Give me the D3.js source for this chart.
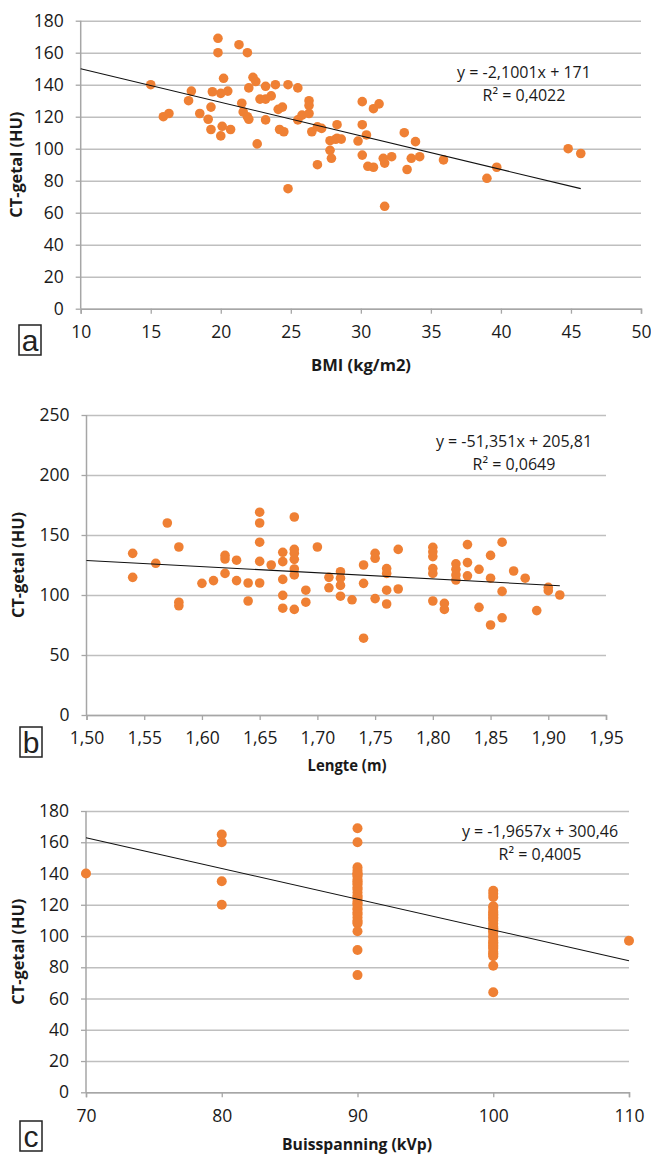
<!DOCTYPE html>
<html>
<head>
<meta charset="utf-8">
<script src="https://cdn.jsdelivr.net/npm/d3@7"></script>
<style>
  html, body { margin: 0; padding: 0; background: #fff; }
  svg { display: block; font-family: "Open Sans", "DejaVu Sans", sans-serif; }
</style>
</head>
<body>
<svg id="chart" width="651" height="1155"></svg>
<script>
// ---------- Panel a: BMI ----------
const bmiX = [15.0,15.9,16.3,19.8,19.8,21.3,21.9,20.2,17.9,17.7,19.4,20.0,20.5,19.3,18.5,19.1,19.3,20.1,20.0,20.7,
  22.3,22.5,22.0,23.2,23.9,24.8,25.5,21.5,21.6,21.9,22.0,22.8,23.2,23.6,23.2,22.6,24.1,24.4,24.2,24.5,
  24.8,25.5,25.8,26.3,26.3,26.3,26.5,26.9,27.2,26.9,27.8,27.8,27.9,28.3,28.3,30.1,30.9,31.3,30.1,30.4,
  29.8,28.2,28.6,33.1,33.9,30.1,30.5,30.9,31.6,32.2,31.7,31.7,33.3,33.6,34.2,35.9,39.0,39.7,44.8,45.7];
const bmiY = [140,120,122,169,160,165,160,144,136,130,135.6,134.6,136,126,122,118.4,112,114,108,112,
  144.6,142,138,139,140,140,138,128.4,123,120,118.4,131,131,133,118,103,124.6,126,112,110.6,
  75,118,121,122,130,127,110.6,113.7,112.7,90,105,99,94,115,106.5,129.4,125,128,115,108.6,
  104.8,105.9,106,110,104.4,96,89,88.4,94,95,91,64,87,94,95,93,81.5,88.4,100,97];
const bmiXTicks = [10,15,20,25,30,35,40,45,50];
const bmiYTicks = [0,20,40,60,80,100,120,140,160,180];
const bmiFit = [-2.1001, 171];
const bmiFitRange = [10, 45.7];
const bmiEq = ["y = -2,1001x + 171", "R² = 0,4022"];

// ---------- Panel b: Lengte ----------
const lenX = [1.54,1.54,1.56,1.57,1.58,1.58,1.58,1.60,1.61,1.62,1.62,1.62,1.63,1.63,1.64,1.64,
  1.65,1.65,1.65,1.65,1.65,1.66,1.67,1.67,1.67,1.67,1.67,1.68,1.68,1.68,1.68,1.68,1.68,1.68,
  1.69,1.69,1.70,1.71,1.71,1.72,1.72,1.72,1.72,1.73,1.74,1.74,1.74,1.75,1.75,1.75,
  1.76,1.76,1.76,1.76,1.77,1.77,1.80,1.80,1.80,1.80,1.80,1.80,1.81,1.81,
  1.82,1.82,1.82,1.82,1.83,1.83,1.83,1.84,1.84,1.85,1.85,1.85,1.86,1.86,1.86,
  1.87,1.88,1.89,1.90,1.90,1.91];
const lenY = [134.7,114.7,126.4,160,140,94,91,109.7,112,133,130,118,129,112,110,95,
  169,160,144,128,110,125,135.6,127.8,113,99.7,89,165,138,134.7,129.7,121.7,116.7,88,
  104,94,140,114.7,106,119.4,114,108,99,96,125,109.7,64,134.7,130.6,97,
  122,118,104,92.5,138,105,139.7,136,132,122,118,95,93,88,
  126,121.4,116.7,112.5,142,127,116,121.4,89.7,133,114,75,144,103,81,
  120,114,87,106.4,103.6,100];
const lenXTicks = [1.50,1.55,1.60,1.65,1.70,1.75,1.80,1.85,1.90,1.95];
const lenYTicks = [0,50,100,150,200,250];
const lenFit = [-51.351, 205.81];
const lenFitRange = [1.50, 1.91];
const lenEq = ["y = -51,351x + 205,81", "R² = 0,0649"];

// ---------- Panel c: Buisspanning ----------
const kvpX = [70,
  80,80,80,80,
  90,90,90,90,90,90,90,90,90,90,90,90,90,90,90,90,90,90,90,90,90,90,90,90,90,90,90,90,90,90,90,90,
  100,100,100,100,100,100,100,100,100,100,100,100,100,100,100,100,100,100,100,100,100,100,100,100,100,100,100,100,100,100,100,100,
  110];
const kvpY = [140,
  165,160,135,120,
  169,160,144,142,140,140,139,138,136,135,134,133,131,130,128,126,125,124,122,121,120,118,117,115,114,112,110,109,108,103,91,75,
  129,127,125,119,118,116,115,114,113,112,111,110,108,106,105,104,103,102,100,99,97,96,95,94,93,92,90,89,88,87,81,64,
  97];
const kvpXTicks = [70,80,90,100,110];
const kvpYTicks = [0,20,40,60,80,100,120,140,160,180];
const kvpFit = [-1.9657, 300.46];
const kvpFitRange = [70, 110];
const kvpEq = ["y = -1,9657x + 300,46", "R² = 0,4005"];

const yTitle = "CT-getal (HU)";

const svg = d3.select("#chart");
svg.append("rect").attr("width", 651).attr("height", 1155).attr("fill", "#fff");

const ORANGE = "#EF8034";
const GRID = "#BFBFBF";
const AXIS = "#A6A6A6";
const TEXT = "#1a1a1a";

function panel(cfg) {
  const g = svg.append("g");
  const x = d3.scaleLinear().domain(cfg.xDomain).range([cfg.left, cfg.right]);
  const y = d3.scaleLinear().domain(cfg.yDomain).range([cfg.bottom, cfg.top]);

  // grid (horizontal)
  const gy = g.append("g").attr("transform", `translate(${cfg.left},0)`)
    .call(d3.axisLeft(y).tickValues(cfg.yTicks).tickSize(-(cfg.right - cfg.left)).tickPadding(0).tickFormat(""));
  gy.select(".domain").remove();
  gy.selectAll(".tick line").attr("stroke", GRID).attr("stroke-width", 1.6);

  // left tick stubs + labels
  const gyl = g.append("g").attr("transform", `translate(${cfg.left},0)`)
    .call(d3.axisLeft(y).tickValues(cfg.yTicks).tickSize(5).tickPadding(cfg.yPad).tickFormat(cfg.yFmt));
  gyl.select(".domain").remove();
  gyl.selectAll(".tick line").attr("stroke", AXIS).attr("stroke-width", 1.3);
  gyl.selectAll(".tick text").attr("fill", TEXT).attr("font-size", 17.5)
    .attr("font-family", '"Open Sans", sans-serif');

  // vertical axis line
  g.append("line").attr("x1", cfg.left).attr("x2", cfg.left)
    .attr("y1", cfg.top).attr("y2", cfg.bottom).attr("stroke", AXIS).attr("stroke-width", 1.5);

  // bottom axis
  const gx = g.append("g").attr("transform", `translate(0,${cfg.bottom})`)
    .call(d3.axisBottom(x).tickValues(cfg.xTicks).tickSize(5).tickPadding(cfg.xPad).tickFormat(cfg.xFmt));
  gx.select(".domain").attr("stroke", AXIS).attr("stroke-width", 1.5);
  gx.selectAll(".tick line").attr("stroke", AXIS).attr("stroke-width", 1.3);
  gx.selectAll(".tick text").attr("fill", TEXT).attr("font-size", 17.5)
    .attr("font-family", '"Open Sans", sans-serif');

  // points
  g.append("g").selectAll("circle").data(cfg.xs).join("circle")
    .attr("cx", (d) => x(d)).attr("cy", (d, i) => y(cfg.ys[i]))
    .attr("r", cfg.r).attr("fill", ORANGE);

  // trendline
  const f = (v) => cfg.fit[0] * v + cfg.fit[1];
  g.append("line")
    .attr("x1", x(cfg.fitRange[0])).attr("y1", y(f(cfg.fitRange[0])))
    .attr("x2", x(cfg.fitRange[1])).attr("y2", y(f(cfg.fitRange[1])))
    .attr("stroke", "#111").attr("stroke-width", 1.1);

  // equation
  const eq = g.append("text").attr("text-anchor", "middle").attr("fill", TEXT)
    .attr("font-size", 16);
  eq.append("tspan").attr("x", cfg.eqX).attr("y", cfg.eqY).text(cfg.eq[0]);
  eq.append("tspan").attr("x", cfg.eqX).attr("y", cfg.eqY + 23).text(cfg.eq[1]);

  // y title
  g.append("text")
    .attr("transform", `translate(${cfg.yTitleX},${(cfg.top + cfg.bottom) / 2}) rotate(-90)`)
    .attr("text-anchor", "middle").attr("font-weight", "bold").attr("font-size", 16.5)
    .attr("textLength", 106).attr("lengthAdjust", "spacingAndGlyphs")
    .attr("fill", TEXT).text(yTitle);

  // x title
  g.append("text").attr("x", cfg.xTitleX).attr("y", cfg.xTitleY)
    .attr("text-anchor", "middle").attr("font-weight", "bold").attr("font-size", 16.5)
    .attr("textLength", cfg.xTitleLen).attr("lengthAdjust", "spacingAndGlyphs")
    .attr("fill", TEXT).text(cfg.xTitle);

  // panel letter box
  g.append("rect").attr("x", cfg.box[0]).attr("y", cfg.box[1]).attr("width", 22).attr("height", 30)
    .attr("fill", "none").attr("stroke", "#222").attr("stroke-width", 1.5);
  g.append("text").attr("x", cfg.box[0] + 11).attr("y", cfg.box[1] + 26)
    .attr("text-anchor", "middle").attr("font-size", 30).attr("fill", "#222")
    .attr("font-family", '"Liberation Sans", sans-serif').text(cfg.letter);
}

const intFmt = d3.format("d");
const commaFmt = (v) => d3.format(".2f")(v).replace(".", ",");

panel({
  xDomain: [10, 50], yDomain: [0, 180],
  left: 80.7, right: 641, top: 20.7, bottom: 308.7,
  xTicks: bmiXTicks, yTicks: bmiYTicks, xFmt: intFmt, yFmt: intFmt,
  xPad: 12, yPad: 12,
  xs: bmiX, ys: bmiY, r: 4.8,
  fit: bmiFit, fitRange: bmiFitRange,
  eq: bmiEq, eqX: 524, eqY: 78,
  yTitleX: 22, xTitle: "BMI (kg/m2)", xTitleLen: 100, xTitleX: 361, xTitleY: 371,
  box: [19, 325], letter: "a"
});

panel({
  xDomain: [1.50, 1.95], yDomain: [0, 250],
  left: 86.5, right: 606, top: 415, bottom: 715,
  xTicks: lenXTicks, yTicks: lenYTicks, xFmt: commaFmt, yFmt: intFmt,
  xPad: 12, yPad: 12,
  xs: lenX, ys: lenY, r: 4.8,
  fit: lenFit, fitRange: lenFitRange,
  eq: lenEq, eqX: 514, eqY: 447,
  yTitleX: 24, xTitle: "Lengte (m)", xTitleLen: 79, xTitleX: 347, xTitleY: 771,
  box: [20, 727], letter: "b"
});

panel({
  xDomain: [70, 110], yDomain: [0, 180],
  left: 86, right: 629, top: 811, bottom: 1092.3,
  xTicks: kvpXTicks, yTicks: kvpYTicks, xFmt: intFmt, yFmt: intFmt,
  xPad: 12, yPad: 12,
  xs: kvpX, ys: kvpY, r: 5,
  fit: kvpFit, fitRange: kvpFitRange,
  eq: kvpEq, eqX: 540, eqY: 837,
  yTitleX: 24, xTitle: "Buisspanning (kVp)", xTitleLen: 150, xTitleX: 357, xTitleY: 1150,
  box: [20, 1121], letter: "c"
});
</script>
</body>
</html>
